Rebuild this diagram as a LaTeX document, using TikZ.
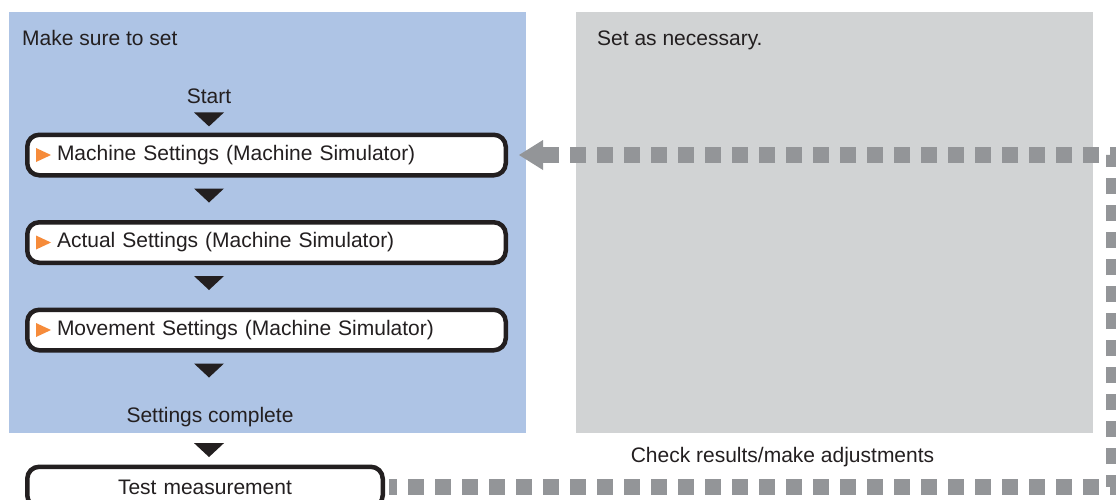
\documentclass[tikz,border=0pt]{standalone}
\usepackage{fontspec}
\setmainfont{Liberation Sans}
\usetikzlibrary{arrows.meta,calc}
\definecolor{colorPanel}{HTML}{AEC4E5}
\definecolor{colorSpare}{HTML}{D1D3D4}
\definecolor{colorLoop}{HTML}{939598}
\definecolor{colorInk}{HTML}{231F20}
\definecolor{colorPointer}{HTML}{F68B3A}

% petit triangle noir sous un noeud (colonne de Start)
\newcommand{\downtri}[2][11]{\fill[colorInk] ($(start |- #2.south)+(-15,#1)$) -- ++(30,0) -- ++(-15,14) -- cycle;}
% triangle orange dans une boite
\newcommand{\pointer}[1]{\fill[colorPointer] ($(#1.west)+(11,-7)$) -- ++(15,7) -- ++(-15,7) -- cycle;}

\begin{document}
\begin{tikzpicture}[x=1pt,y=-1pt,
  every node/.style={font=\fontsize{21}{25}\selectfont, text=colorInk},
  panelnote/.style={inner sep=0pt},
  stepbox/.style={draw=colorInk, line width=4.5pt, rounded corners=12pt, fill=white,
    minimum width=478.5pt, minimum height=40.5pt, text width=419pt,
    inner xsep=29.75pt, inner ysep=0pt, align=left},
  testbox/.style={stepbox, minimum width=355.5pt, text width=296pt, align=center},
  feedback/.style={draw=colorLoop, line width=16pt, dash pattern=on 16pt off 11pt,
    dash phase=8pt, -{Triangle[length=24pt,width=30pt,line width=0pt]}}
]
\useasboundingbox (0,0) rectangle (1116,499);

% Les deux panneaux
\fill[colorPanel] (9,12) rectangle (526,433);
\fill[colorSpare] (576,12) rectangle (1093,433);

\node[panelnote, anchor=base west] (must) at (22,45) {Make sure to set};
\node[panelnote, anchor=base west] (spare) at (597,45) {Set as necessary.};

% Etapes
\node[panelnote, anchor=base] (start) at (209,103) {Start};
\node[stepbox] (machine) at (266.5,155) {Machine Settings (Machine Simulator)};
\node[stepbox] (actual) at (266.5,242.5) {Actual Settings (Machine Simulator)};
\node[stepbox] (movement) at (266.5,330) {Movement Settings (Machine Simulator)};
\node[panelnote, anchor=base] (done) at (210,422) {Settings complete};
\node[testbox] (test) at (205,487) {Test measurement};
\node[panelnote, anchor=base] (check) at (782.5,462) {Check results/make adjustments};

\pointer{machine}
\pointer{actual}
\pointer{movement}

\downtri[9]{start}
\downtri{machine}
\downtri{actual}
\downtri{movement}
\downtri[16.5]{done}

% Retour en pointilles
\coordinate (lowturn) at (1114,487);
\coordinate (highturn) at (1114,155);
\draw[feedback] ([xshift=4pt]test.east) -- (lowturn) -- (highturn) -- ([xshift=11pt]machine.east);

\end{tikzpicture}
\end{document}
